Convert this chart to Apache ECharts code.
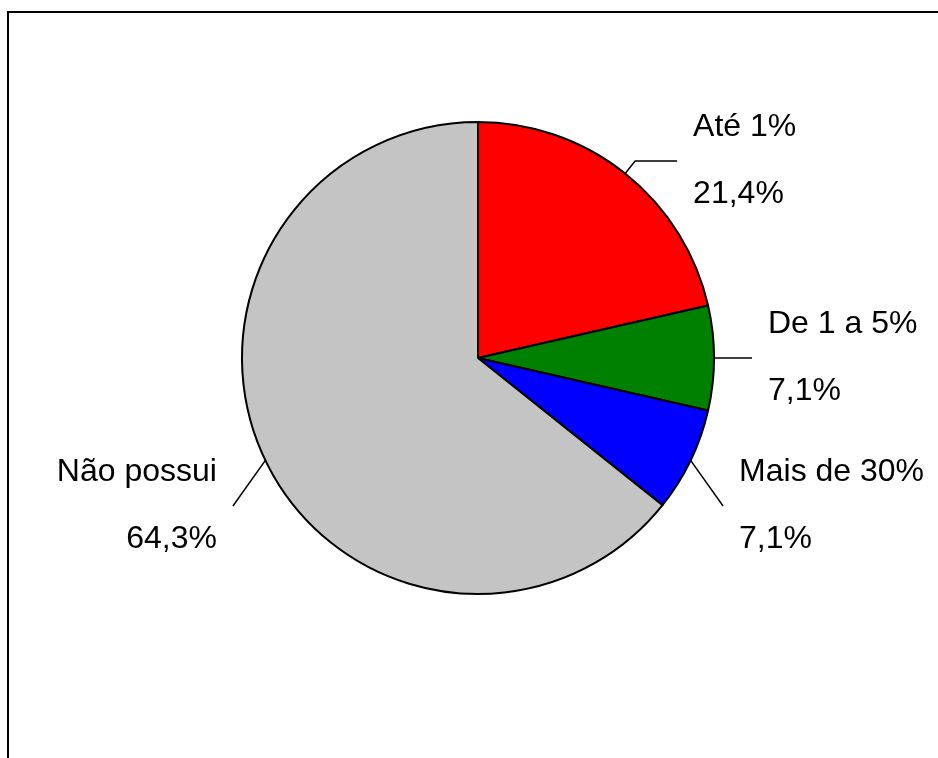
<!DOCTYPE html>
<html>
<head>
<meta charset="utf-8">
<script src="https://cdn.jsdelivr.net/npm/echarts@6/dist/echarts.min.js"></script>
<style>
  html, body { margin: 0; padding: 0; background: #fff; }
  #main { width: 938px; height: 758px; }
</style>
</head>
<body>
<div id="main"></div>
<script>
// categorias e contagens (n = 14)
var categories = ['Até 1%', 'De 1 a 5%', 'Mais de 30%', 'Não possui'];
var counts = [3, 1, 1, 9];
var colors = ['#ff0000', '#008000', '#0000ff', '#c4c4c4'];
// comprimento das linhas de rótulo
var lineLen = [16, 6, 36, 36];
var lineLen2 = [42, 32, 0, 0];
// deslocamento vertical dos rótulos de baixo
var labelDy = [0, 0, 30, 30];

var total = counts.reduce(function (a, b) { return a + b; }, 0);

var chart = echarts.init(document.getElementById('main'));

var data = categories.map(function (name, i) {
    return {
        name: name,
        value: counts[i],
        itemStyle: { color: colors[i] },
        labelLine: { length: lineLen[i], length2: lineLen2[i] }
    };
});

option = {
    animation: false,
    graphic: [
        {
            type: 'rect',
            shape: { x: 8, y: 12, width: 1000, height: 1000 },
            style: { fill: 'none', stroke: '#000', lineWidth: 2 }
        }
    ],
    series: [
        {
            type: 'pie',
            center: [478, 358],
            radius: 236,
            startAngle: 90,
            clockwise: true,
            avoidLabelOverlap: false,
            itemStyle: {
                borderColor: '#000',
                borderWidth: 2
            },
            label: {
                show: true,
                position: 'outside',
                distanceToLabelLine: 16,
                fontFamily: 'Liberation Sans, Arial, sans-serif',
                fontSize: 32,
                lineHeight: 67,
                color: '#000',
                formatter: function (p) {
                    var pct = (p.value / total * 100).toFixed(1).replace('.', ',');
                    return p.name + '\n' + pct + '%';
                }
            },
            labelLine: {
                show: true,
                smooth: false,
                lineStyle: { color: '#000', width: 1.5 }
            },
            labelLayout: function (p) {
                var dy = labelDy[p.dataIndex];
                var pts = p.labelLinePoints;
                if (!dy || !pts) {
                    return { hideOverlap: false };
                }
                var end = pts[pts.length - 1];
                return {
                    hideOverlap: false,
                    dy: dy,
                    labelLinePoints: [pts[0], [end[0], end[1] + dy]]
                };
            },
            emphasis: { disabled: true },
            data: data
        }
    ]
};

chart.setOption(option);
</script>
</body>
</html>
